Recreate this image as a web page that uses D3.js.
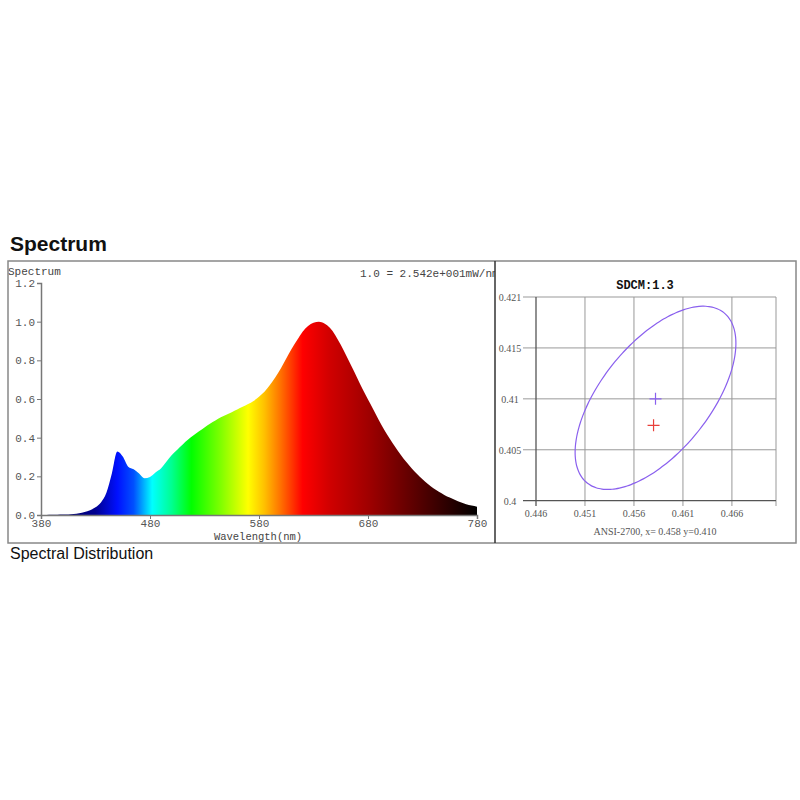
<!DOCTYPE html>
<html>
<head>
<meta charset="utf-8">
<script src="https://cdn.jsdelivr.net/npm/d3@7.9.0/dist/d3.min.js"></script>
<style>
  body { margin: 0; background: #fff; }
  svg { display: block; }
</style>
</head>
<body>
<svg id="chart" width="800" height="800"></svg>
<script>
// spectrum, relative power every 5 nm (380..780)
const wavelengths = d3.range(380, 781, 5);
const power = [
  0.000, 0.000, 0.001, 0.001, 0.002, 0.003, 0.005, 0.009, 0.015, 0.025,
  0.040, 0.065, 0.115, 0.215, 0.328, 0.302, 0.250, 0.236, 0.215, 0.190,
  0.197, 0.220, 0.240, 0.275, 0.310, 0.338, 0.365, 0.390, 0.412, 0.433,
  0.453, 0.472, 0.489, 0.505, 0.519, 0.532, 0.546, 0.560, 0.574, 0.590,
  0.612, 0.637, 0.672, 0.712, 0.758, 0.810, 0.860, 0.905, 0.948, 0.978,
  0.995, 1.000, 0.991, 0.968, 0.930, 0.880, 0.825, 0.768, 0.710, 0.652,
  0.598, 0.545, 0.490, 0.440, 0.395, 0.352, 0.312, 0.275, 0.242, 0.212,
  0.185, 0.160, 0.138, 0.120, 0.104, 0.090, 0.078, 0.066, 0.056, 0.049,
  0.043
];
const specXTicks = [380, 480, 580, 680, 780];
const specYTicks = [0, 0.2, 0.4, 0.6, 0.8, 1.0, 1.2];

// colour of the fill along the wavelength axis
const colorStopNm = [380, 430, 450, 465, 482, 500, 518, 545, 570, 585, 600, 620, 645, 680, 720, 780];
const colorStopCol = ['#000050', '#000090', '#0010ff', '#0050ff', '#00ffff', '#00ff90', '#00ff00',
  '#80ff00', '#ffff00', '#ffc000', '#ff7000', '#ff0000', '#d00000', '#a00000', '#600000', '#000000'];

// chromaticity panel
const cieXTicks = [0.446, 0.451, 0.456, 0.461, 0.466];
const cieYTicks = [0.4, 0.405, 0.41, 0.415, 0.42];
const cieYLabels = ['0.4', '0.405', '0.41', '0.415', '0.421'];
const ellipseCenter = [0.4582, 0.4101];
const ellipseAxes = [0.01089, 0.00545];   // semi-major, semi-minor
const ellipseAngle = 49.4;                // degrees
const targetPoint = [0.4582, 0.4100];
const measuredPoint = [0.4580, 0.4074];

const svg = d3.select('#chart');
const mono = '"Liberation Mono", "DejaVu Sans Mono", monospace';
const serif = '"Liberation Serif", "DejaVu Serif", serif';

svg.append('rect').attr('width', 800).attr('height', 800).attr('fill', '#fff');

svg.append('text').attr('x', 10).attr('y', 251)
  .attr('font-family', '"Liberation Sans", Arial, sans-serif')
  .attr('font-weight', 'bold').attr('font-size', 21).attr('fill', '#111')
  .text('Spectrum');

svg.append('text').attr('x', 10).attr('y', 559)
  .attr('font-family', '"Liberation Sans", Arial, sans-serif')
  .attr('font-size', 16).attr('fill', '#111')
  .text('Spectral Distribution');

// ---------- left panel: spectrum ----------
svg.append('clipPath').attr('id', 'leftClip')
  .append('rect').attr('x', 8).attr('y', 261).attr('width', 487).attr('height', 282);

const left = svg.append('g').attr('clip-path', 'url(#leftClip)');

let x = d3.scaleLinear().domain([380, 780]).range([41, 477]);
let y = d3.scaleLinear().domain([0, 1.2]).range([515, 283]);

let grad = svg.append('defs').append('linearGradient')
  .attr('id', 'specGrad')
  .attr('gradientUnits', 'userSpaceOnUse')
  .attr('x1', x(380)).attr('x2', x(780)).attr('y1', 0).attr('y2', 0);
colorStopNm.forEach((nm, i) => {
  grad.append('stop')
    .attr('offset', (nm - 380) / 400)
    .attr('stop-color', colorStopCol[i]);
});

let specData = wavelengths.map((w, i) => ({ w, v: power[i] }));
let area = d3.area()
  .x(d => x(d.w))
  .y0(y(0))
  .y1(d => y(d.v))
  .curve(d3.curveMonotoneX);

left.append('path')
  .attr('d', area(specData))
  .attr('fill', 'url(#specGrad)');

let yAxis = left.append('g')
  .attr('transform', `translate(${x(380)},0)`)
  .call(d3.axisLeft(y).tickValues(specYTicks).tickFormat(d3.format('.1f')).tickSize(4).tickPadding(2));
let xAxis = left.append('g')
  .attr('transform', `translate(0,${y(0)})`)
  .call(d3.axisBottom(x).tickValues(specXTicks).tickSize(4).tickPadding(0));

[yAxis, xAxis].forEach(ax => {
  ax.select('.domain').attr('stroke', '#777').attr('stroke-width', 1.5);
  ax.selectAll('.tick line').attr('stroke', '#777');
  ax.selectAll('text').attr('font-family', mono).attr('font-size', 11).attr('fill', '#555');
});

left.append('text').attr('x', 8).attr('y', 275)
  .attr('font-family', mono).attr('font-size', 11).attr('fill', '#444')
  .text('Spectrum');
left.append('text').attr('x', 360).attr('y', 277)
  .attr('font-family', mono).attr('font-size', 11).attr('fill', '#444')
  .text('1.0 = 2.542e+001mW/nm');
left.append('text').attr('x', 258).attr('y', 539.5).attr('text-anchor', 'middle')
  .attr('font-family', mono).attr('font-size', 10.5).attr('fill', '#444')
  .text('Wavelength(nm)');

// ---------- right panel: SDCM ----------
let cx = d3.scaleLinear().domain([0.446, 0.4705]).range([536, 776]);
let cy = d3.scaleLinear().domain([0.4, 0.42]).range([500.7, 297]);

const right = svg.append('g');

// grid
right.selectAll('.hgrid').data(cieYTicks.slice(1)).join('line')
  .attr('x1', 523).attr('x2', cx.range()[1])
  .attr('y1', d => cy(d)).attr('y2', d => cy(d))
  .attr('stroke', '#999').attr('stroke-width', 1);
right.selectAll('.vgrid').data(cieXTicks.slice(1).concat([0.4705])).join('line')
  .attr('x1', d => cx(d)).attr('x2', d => cx(d))
  .attr('y1', cy(0.42)).attr('y2', 506)
  .attr('stroke', '#999').attr('stroke-width', 1);

// axes
right.append('line').attr('x1', 523).attr('x2', cx.range()[1])
  .attr('y1', cy(0.4)).attr('y2', cy(0.4)).attr('stroke', '#555').attr('stroke-width', 1.3);
right.append('line').attr('x1', cx(0.446)).attr('x2', cx(0.446))
  .attr('y1', cy(0.42)).attr('y2', 506).attr('stroke', '#555').attr('stroke-width', 1.3);

right.selectAll('.ylab').data(cieYTicks).join('text')
  .attr('x', 510).attr('y', d => cy(d) + 4).attr('text-anchor', 'middle')
  .attr('font-family', serif).attr('font-size', 10).attr('fill', '#555')
  .text((d, i) => cieYLabels[i]);
right.selectAll('.xlab').data(cieXTicks).join('text')
  .attr('x', d => cx(d)).attr('y', 517).attr('text-anchor', 'middle')
  .attr('font-family', serif).attr('font-size', 10).attr('fill', '#555')
  .text(d => d3.format('.3f')(d));

right.append('text').attr('x', 645).attr('y', 289).attr('text-anchor', 'middle')
  .attr('font-family', mono).attr('font-weight', 'bold').attr('font-size', 12).attr('fill', '#111')
  .text('SDCM:1.3');
right.append('text').attr('x', 655).attr('y', 535).attr('text-anchor', 'middle')
  .attr('font-family', serif).attr('font-size', 10).attr('fill', '#555')
  .text('ANSI-2700, x= 0.458 y=0.410');

// ellipse from its parameters
let th = ellipseAngle * Math.PI / 180;
let ellPts = d3.range(0, 360, 3).map(t => {
  let a = t * Math.PI / 180;
  let ex = ellipseAxes[0] * Math.cos(a), ey = ellipseAxes[1] * Math.sin(a);
  return [ellipseCenter[0] + ex * Math.cos(th) - ey * Math.sin(th),
          ellipseCenter[1] + ex * Math.sin(th) + ey * Math.cos(th)];
});
right.append('path')
  .attr('d', d3.line().x(d => cx(d[0])).y(d => cy(d[1])).curve(d3.curveCardinalClosed)(ellPts))
  .attr('fill', 'none').attr('stroke', '#8a60ee').attr('stroke-width', 1.2);

function cross(pt, color) {
  let px = cx(pt[0]), py = cy(pt[1]);
  right.append('path')
    .attr('d', `M${px - 6},${py}H${px + 6}M${px},${py - 6}V${py + 6}`)
    .attr('stroke', color).attr('stroke-width', 1.2).attr('fill', 'none');
}
cross(targetPoint, '#8a60ee');
cross(measuredPoint, '#e8403a');

// frames
svg.append('rect').attr('x', 8).attr('y', 261).attr('width', 788).attr('height', 282)
  .attr('fill', 'none').attr('stroke', '#888').attr('stroke-width', 1.5);
svg.append('line').attr('x1', 495).attr('x2', 495).attr('y1', 261).attr('y2', 543)
  .attr('stroke', '#333').attr('stroke-width', 1.5);
</script>
</body>
</html>
